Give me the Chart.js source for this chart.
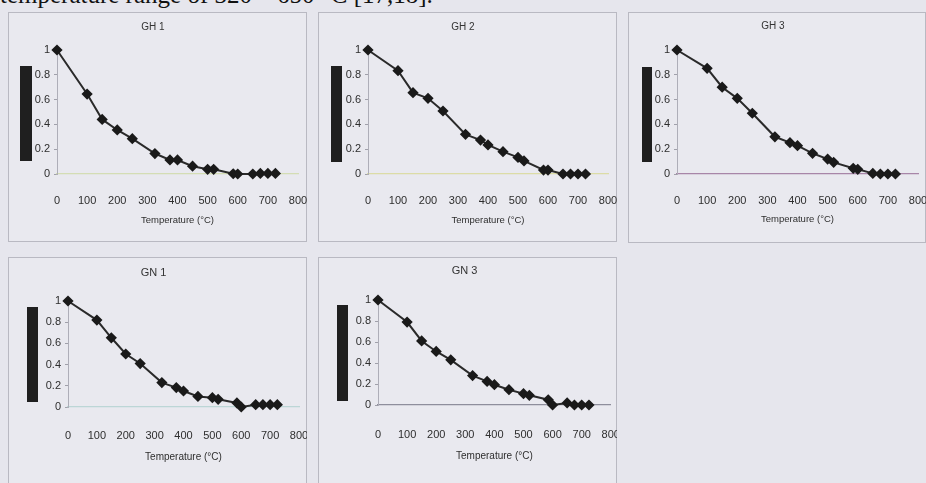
<!DOCTYPE html>
<html><head><meta charset="utf-8">
<script src="https://cdn.jsdelivr.net/npm/chart.js@4"></script>
<style>
html,body{margin:0;padding:0;width:926px;height:483px;overflow:hidden;background:#e6e6ed;position:relative;}
#caption{position:absolute;left:0;top:-18px;font:25px/25px "Liberation Serif","Times New Roman",serif;color:#111;white-space:nowrap;}
.panel{position:absolute;background:#e9e9ef;outline:1px solid #b9b9c2;outline-offset:-1px;}
.panel canvas{position:absolute;left:0;top:0;}
.bar{position:absolute;background:#1f1f1f;}
</style></head><body>
<div id="caption">temperature range of 320 – 650 °C [17,18].</div>
<script>
const temperatures = [0,100,150,200,250,325,375,400,450,500,520,585,600,650,675,700,725];
const xTickLabels = ['0','100','200','300','400','500','600','700','800'];
const yTickLabels = ['0','0.2','0.4','0.6','0.8','1'];
const panelTitles = ['GH 1','GH 2','GH 3','GN 1','GN 3'];
const xAxisTitle = 'Temperature (°C)';
const gh1 = [1.0,0.645,0.44,0.355,0.285,0.165,0.113,0.113,0.063,0.038,0.038,0.002,0.0,0.0,0.005,0.005,0.005];
const gh2 = [1.0,0.833,0.656,0.61,0.508,0.32,0.274,0.234,0.18,0.134,0.105,0.032,0.032,0.0,0.0,0.0,0.0];
const gh3 = [1.0,0.852,0.70,0.61,0.49,0.30,0.253,0.228,0.167,0.12,0.094,0.046,0.038,0.005,0.0,0.0,0.0];
const gn1 = [1.0,0.82,0.653,0.50,0.41,0.23,0.183,0.151,0.10,0.088,0.073,0.038,0.0,0.022,0.022,0.022,0.022];
const gn3 = [1.0,0.79,0.61,0.51,0.43,0.28,0.225,0.193,0.146,0.108,0.092,0.05,0.0,0.02,0.0,0.0,0.0];
const seriesList = [gh1,gh2,gh3,gn1,gn3];

const FONT = '"Liberation Sans", Arial, sans-serif';
const NARROW = '"Liberation Sans Narrow", "Arial Narrow", "Liberation Sans", Arial, sans-serif';
const layouts = [
  {left:8,top:12,right:307,bottom:242,x0:57,x800:298,y1:50,y0:174,titleY:27,labelY:193,xTitleY:220,ft:10,fl:11,tf:NARROW,fx:9.5,zero:'#d4ddb4',bar:[20,66,32,161]},
  {left:318,top:12,right:617,bottom:242,x0:368,x800:608,y1:50,y0:174,titleY:27,labelY:193,xTitleY:220,ft:10,fl:11,tf:NARROW,fx:9.5,zero:'#dcdca6',bar:[331,66,342,162]},
  {left:628,top:12,right:926,bottom:243,x0:677,x800:918,y1:50,y0:174,titleY:26,labelY:193,xTitleY:219,ft:10,fl:11,tf:NARROW,fx:9.5,zero:'#a886a8',bar:[642,67,652,162]},
  {left:8,top:257,right:307,bottom:486,x0:68,x800:299,y1:301,y0:407,titleY:273,labelY:428,xTitleY:457,ft:11,fl:11,tf:FONT,fx:10,zero:'#bcd6d6',bar:[27,307,38,402]},
  {left:318,top:257,right:617,bottom:486,x0:378,x800:611,y1:300,y0:405,titleY:271,labelY:427,xTitleY:456,ft:11,fl:11,tf:FONT,fx:10,zero:'#8e8e9c',bar:[337,305,348,401]}
];

layouts.forEach((g, i) => {
  const W = g.right - g.left, H = g.bottom - g.top;
  const div = document.createElement('div');
  div.className = 'panel';
  Object.assign(div.style, {left:g.left+'px', top:g.top+'px', width:W+'px', height:H+'px'});
  const cv = document.createElement('canvas');
  cv.width = W; cv.height = H;
  div.appendChild(cv);
  document.body.appendChild(div);
  const bar = document.createElement('div');
  bar.className = 'bar';
  Object.assign(bar.style, {left:g.bar[0]+'px', top:g.bar[1]+'px', width:(g.bar[2]-g.bar[0])+'px', height:(g.bar[3]-g.bar[1])+'px'});
  document.body.appendChild(bar);

  const lhT = g.ft*1.2, lhL = g.fl*1.2, lhX = g.fx*1.2;
  const tPadTop = (g.titleY - g.top) - lhT/2;
  const tPadBot = (g.y1 - g.top) - tPadTop - lhT;

  new Chart(cv, {
    type:'line',
    data:{datasets:[{
      data: temperatures.map((t,k)=>({x:t,y:seriesList[i][k]})),
      borderColor:'#2a2a2a', borderWidth:2, backgroundColor:'#1a1a1a',
      pointStyle:'rectRot', pointRadius:4.2, pointBorderColor:'#1a1a1a', pointBackgroundColor:'#1a1a1a',
      tension:0, fill:false, clip:false
    }]},
    options:{
      responsive:false, animation:false, devicePixelRatio:1,
      layout:{padding:{left:0,top:0,bottom:0,right:g.right-g.x800}},
      plugins:{
        legend:{display:false}, tooltip:{enabled:false},
        title:{display:true,text:panelTitles[i],color:'#333',font:{family:g.tf,size:g.ft,weight:'normal'},padding:{top:tPadTop,bottom:tPadBot}}
      },
      scales:{
        x:{type:'linear',min:0,max:800,
          ticks:{stepSize:100,autoSkip:false,maxRotation:0,color:'#2e2e2e',font:{family:g.tf,size:g.fl},
            padding:(g.labelY-g.y0)-lhL/2, callback:(v)=>xTickLabels[Math.round(v/100)]},
          grid:{display:false}, border:{color:g.zero,width:1.3},
          title:{display:true,text:xAxisTitle,color:'#2e2e2e',font:{family:FONT,size:g.fx},
            padding:{top:0,bottom:(g.bottom-g.xTitleY)-lhX/2}},
          afterFit(s){ s.height = g.bottom - g.y0; s.paddingLeft = 0; s.paddingRight = 0; }
        },
        y:{min:0,max:1,
          ticks:{stepSize:0.2,color:'#2e2e2e',font:{family:g.tf,size:g.fl},padding:4,
            callback:(v)=>yTickLabels[Math.round(v*5)]},
          grid:{drawOnChartArea:false,drawTicks:true,tickLength:3,color:'#a0a0aa'},
          border:{color:'#aeaeb8',width:1},
          afterFit(s){ s.width = g.x0 - g.left; s.paddingTop = 0; s.paddingBottom = 0; }
        }
      }
    }
  });
});
</script>
</body></html>
